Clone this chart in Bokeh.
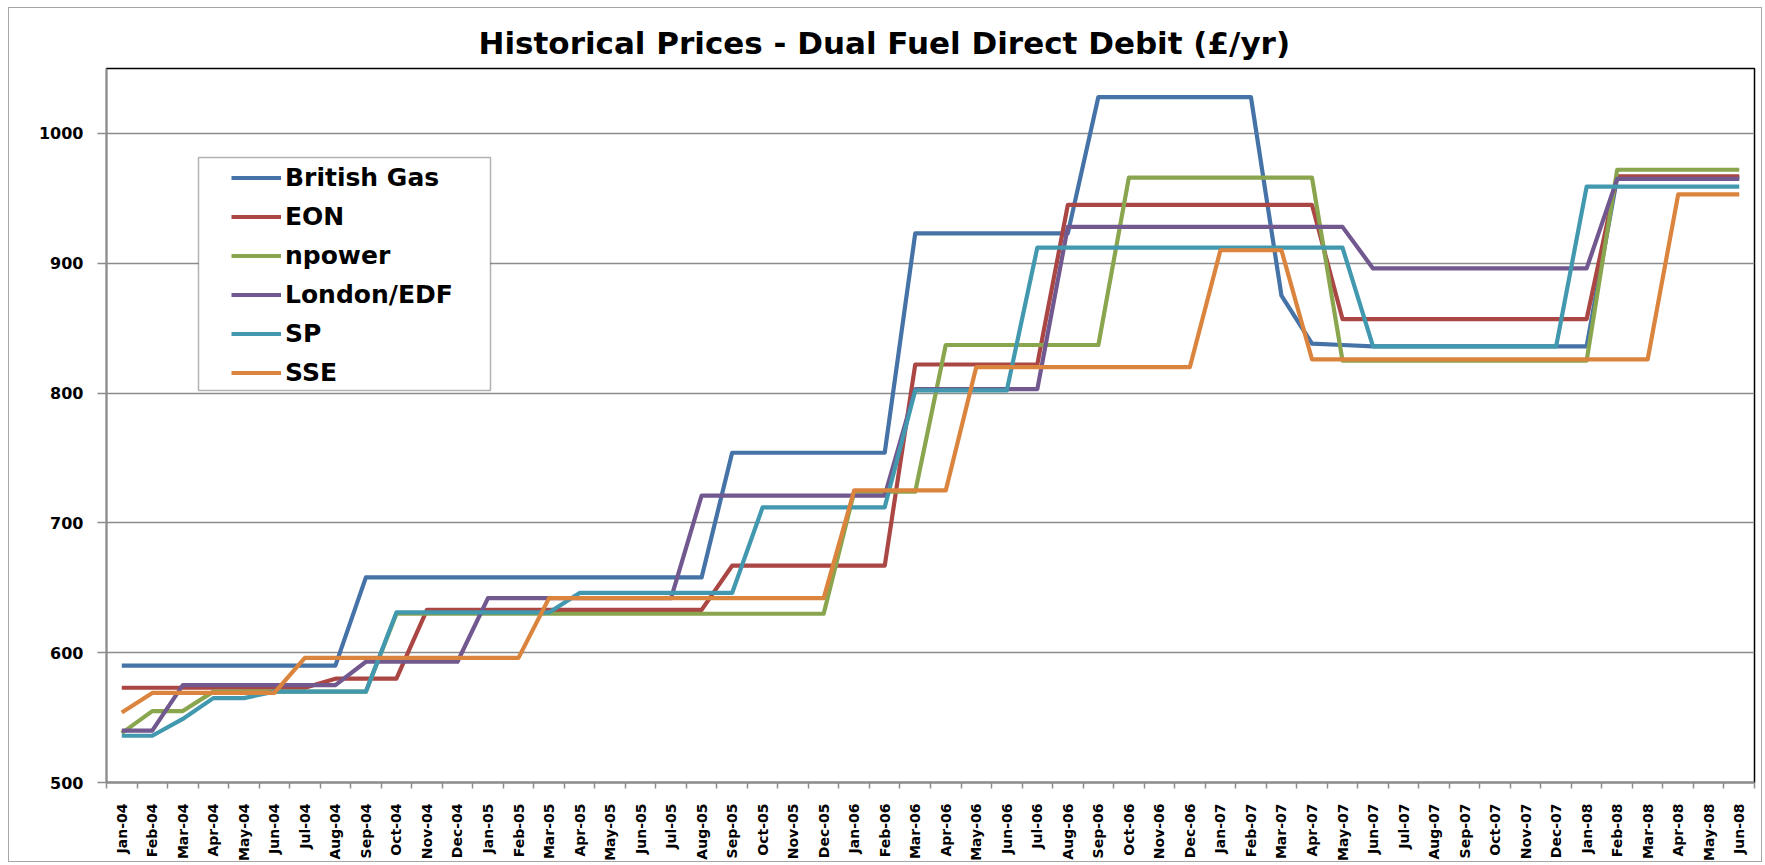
from bokeh.plotting import figure
from bokeh.models import (Range1d, FixedTicker, Legend, LegendItem, BoxAnnotation)
from bokeh.embed import file_html
from bokeh.resources import INLINE
import math

months = ["Jan-04", "Feb-04", "Mar-04", "Apr-04", "May-04", "Jun-04", "Jul-04", "Aug-04",
          "Sep-04", "Oct-04", "Nov-04", "Dec-04", "Jan-05", "Feb-05", "Mar-05", "Apr-05",
          "May-05", "Jun-05", "Jul-05", "Aug-05", "Sep-05", "Oct-05", "Nov-05", "Dec-05",
          "Jan-06", "Feb-06", "Mar-06", "Apr-06", "May-06", "Jun-06", "Jul-06", "Aug-06",
          "Sep-06", "Oct-06", "Nov-06", "Dec-06", "Jan-07", "Feb-07", "Mar-07", "Apr-07",
          "May-07", "Jun-07", "Jul-07", "Aug-07", "Sep-07", "Oct-07", "Nov-07", "Dec-07",
          "Jan-08", "Feb-08", "Mar-08", "Apr-08", "May-08", "Jun-08"]

british_gas = [590]*8 + [658]*12 + [754]*6 + [923]*6 + [1028]*6 + [875, 838, 837] + [836]*8 + [966]*5
eon = [573]*7 + [580]*3 + [633]*10 + [667]*6 + [822]*5 + [945]*9 + [857]*9 + [967]*5
npower = [538] + [555]*2 + [570]*6 + [630]*15 + [724]*3 + [837]*6 + [966]*7 + [825]*9 + [972]*5
london_edf = [540]*2 + [575]*6 + [593]*4 + [642]*7 + [721]*7 + [803]*5 + [928]*10 + [896]*8 + [965]*5
sp = [536]*2 + [549] + [565]*2 + [570]*4 + [631]*6 + [646]*6 + [712]*5 + [802]*4 + [912]*11 + [836]*7 + [959]*6
sse = [554] + [569]*5 + [596]*8 + [642]*10 + [725]*4 + [820]*8 + [910]*3 + [826]*12 + [953]*3

series_names = ["British Gas", "EON", "npower", "London/EDF", "SP", "SSE"]
series_values = [british_gas, eon, npower, london_edf, sp, sse]
series_colors = ["#4572A7", "#AA4643", "#89A54E", "#71588F", "#4198AF", "#DB843D"]

y_ticks = [500, 600, 700, 800, 900, 1000]

FONT = "DejaVu Sans"
GREY = "#8c8c8c"

xs = [i + 0.5 for i in range(len(months))]

p = figure(width=1754, height=855, output_backend="svg", toolbar_location=None,
           x_range=Range1d(0, len(months)), y_range=Range1d(500, 1050),
           min_border_left=97, min_border_right=9, min_border_top=60, min_border_bottom=78)
p.margin = (7, 0, 0, 8)
p.styles = {"border": "1px solid #a6a6a6"}

p.title.text = "Historical Prices - Dual Fuel Direct Debit (£/yr)"
p.title.text_font = FONT
p.title.text_font_size = "31px"
p.title.text_font_style = "bold"
p.title.text_color = "black"
p.title.align = "left"
p.title.offset = 372
p.title.standoff = 16

p.outline_line_color = "black"
p.outline_line_width = 1.5
p.background_fill_color = "white"
p.border_fill_color = "white"

p.xgrid.visible = False
p.ygrid.ticker = FixedTicker(ticks=y_ticks)
p.ygrid.grid_line_color = GREY
p.ygrid.grid_line_width = 1.5

p.yaxis.ticker = FixedTicker(ticks=y_ticks)
p.yaxis.axis_line_color = GREY
p.yaxis.axis_line_width = 1.5
p.yaxis.major_tick_line_color = GREY
p.yaxis.major_tick_line_width = 1.5
p.yaxis.major_tick_out = 9
p.yaxis.major_tick_in = 0
p.yaxis.minor_tick_line_color = None
p.yaxis.major_label_text_font = FONT
p.yaxis.major_label_text_font_size = "16px"
p.yaxis.major_label_text_font_style = "bold"
p.yaxis.major_label_text_color = "black"
p.yaxis.major_label_standoff = 14

p.xaxis.ticker = FixedTicker(ticks=xs, minor_ticks=list(range(len(months) + 1)))
p.xaxis.major_label_overrides = {x: m for x, m in zip(xs, months)}
p.xaxis.axis_line_color = GREY
p.xaxis.axis_line_width = 2
p.xaxis.major_tick_line_color = None
p.xaxis.major_tick_out = 0
p.xaxis.major_tick_in = 0
p.xaxis.minor_tick_line_color = GREY
p.xaxis.minor_tick_line_width = 1.5
p.xaxis.minor_tick_out = 6
p.xaxis.minor_tick_in = 0
p.xaxis.major_label_orientation = math.pi / 2
p.xaxis.major_label_text_font = FONT
p.xaxis.major_label_text_font_size = "14px"
p.xaxis.major_label_text_font_style = "bold"
p.xaxis.major_label_text_color = "black"
p.xaxis.major_label_standoff = 15

renderers = []
for name, vals, col in zip(series_names, series_values, series_colors):
    r = p.line(xs, vals, line_color=col, line_width=4.2, line_join="round")
    renderers.append(r)

box = BoxAnnotation(left=92, right=384, top=625, bottom=392,
                    left_units="screen", right_units="screen",
                    top_units="screen", bottom_units="screen",
                    fill_color="white", fill_alpha=1.0,
                    line_color="black", line_width=1.5)
p.add_layout(box)

legend = Legend(items=[LegendItem(label=n, renderers=[r]) for n, r in zip(series_names, renderers)],
                location=(121, 390), orientation="vertical")
legend.padding = 4
legend.margin = 0
legend.spacing = 8
legend.label_height = 31
legend.glyph_height = 31
legend.glyph_width = 50
legend.label_standoff = 4
legend.label_text_font = FONT
legend.label_text_font_size = "25px"
legend.label_text_font_style = "bold"
legend.label_text_color = "black"
legend.label_text_baseline = "middle"
legend.border_line_alpha = 0
legend.background_fill_alpha = 0
p.add_layout(legend, "center")

open("out.html", "w").write(file_html(p, INLINE))
